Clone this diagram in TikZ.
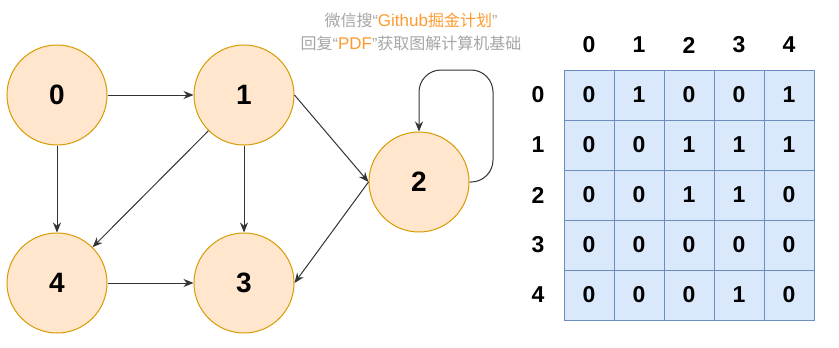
\documentclass[tikz,border=0pt]{standalone}
\usepackage{fontspec}
\setmainfont{Liberation Sans}
\newfontfamily\cjk{Noto Sans CJK SC}
\newfontfamily\latn{Liberation Sans}
\usetikzlibrary{arrows.meta}
\definecolor{nodefill}{HTML}{FFE6CC}
\definecolor{nodeline}{HTML}{D79B00}
\definecolor{cellfill}{HTML}{DAE8FC}
\definecolor{cellline}{HTML}{6C8EBF}
\definecolor{edgecol}{HTML}{333333}
\definecolor{graytext}{HTML}{A6A6A6}
\definecolor{orangetext}{HTML}{FF9B2E}
\tikzset{
  vnode/.style={circle, draw=nodeline, fill=nodefill, line width=1pt, minimum size=100pt, inner sep=0pt, font=\fontsize{28}{30}\selectfont\bfseries},
  edge/.style={draw=edgecol, line width=1pt, -{Stealth[length=10pt,width=8pt]}},
  cell/.style={rectangle, draw=cellline, fill=cellfill, line width=1pt, minimum size=50pt, inner sep=0pt, font=\fontsize{23}{25}\selectfont\bfseries},
  lbl/.style={inner sep=0pt, font=\fontsize{23}{25}\selectfont\bfseries},
  wm/.style={inner sep=0pt, font=\cjk\fontsize{16}{18}\selectfont, text=graytext}
}
\begin{document}
\begin{tikzpicture}[x=1pt,y=-1pt]
\useasboundingbox[fill=white] (0,0) rectangle (839,348);
% watermark
\node[wm] (wm1) at (411,20) {微信搜{\latn “}\textcolor{orangetext}{{\latn\fontsize{17}{18}\selectfont Github}掘金计划}{\latn ”}};
\node[wm] (wm2) at (411,43) {回复{\latn “}\textcolor{orangetext}{\latn\fontsize{17}{18}\selectfont PDF}{\latn ”}获取图解计算机基础};
% graph
\node[vnode] (n0) at (57,95) {0};
\node[vnode] (n1) at (244,95) {1};
\node[vnode] (n2) at (419,182) {2};
\node[vnode] (n4) at (57,283) {4};
\node[vnode] (n3) at (244,283) {3};
\draw[edge] (n0.east) -- (n1.west);
\draw[edge] (n0.south) -- (n4.north);
\draw[edge] (n1) -- (n4);
\draw[edge] (n1.south) -- (n3.north);
\draw[edge] (n1.east) -- (n2.west);
\draw[edge] (n2.west) -- (n3.east);
\draw[edge] (n4.east) -- (n3.west);
\draw[edge, rounded corners=22pt] (n2.east) -| (493,70) -| (n2.north);
% matrix
\foreach \c in {0,...,4} {
  \node[lbl] (ch\c) at (589+50*\c,45) {\c};
  \node[lbl] (rh\c) at (538,95+50*\c) {\c};
}
\foreach \r/\row in {0/{0,1,0,0,1},1/{0,0,1,1,1},2/{0,0,1,1,0},3/{0,0,0,0,0},4/{0,0,0,1,0}} {
  \foreach \v [count=\c from 0] in \row {
    \node[cell] (m\r\c) at (589+50*\c,95+50*\r) {\v};
  }
}
\end{tikzpicture}
\end{document}
